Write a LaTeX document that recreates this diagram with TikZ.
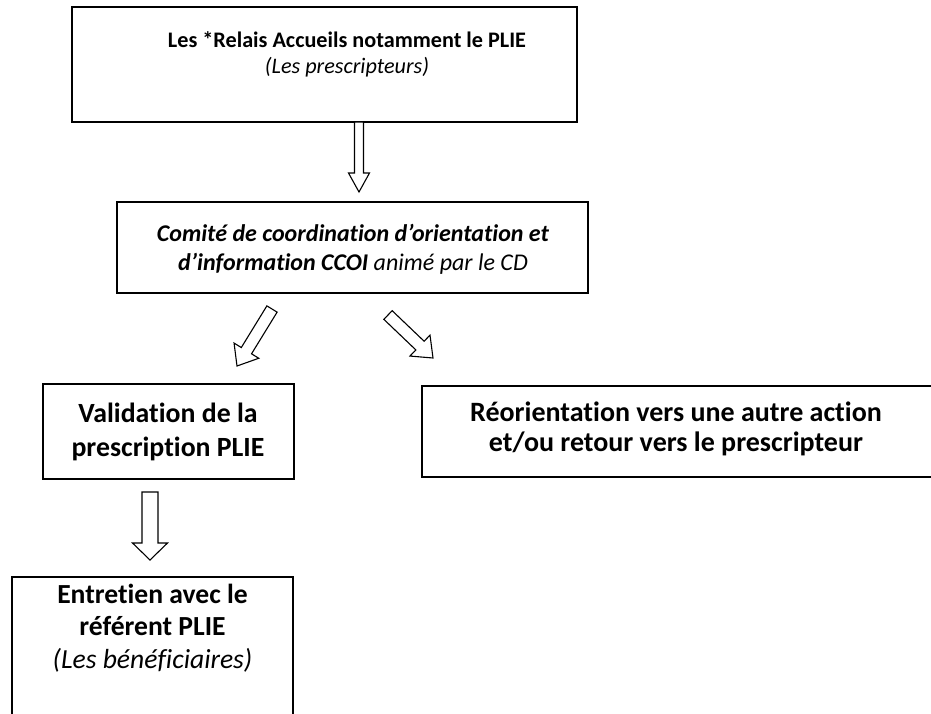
\documentclass[tikz,border=0pt]{standalone}
\usepackage{fontspec}
\setmainfont{Carlito}[Ligatures={NoCommon,NoRequired,NoContextual}]
\usetikzlibrary{calc}
\tikzset{
  box/.style={draw=black, line width=1.5pt, fill=none, inner sep=0pt},
  txt/.style={align=center, inner sep=0pt, text=black},
  blockarr/.style={draw=black, line width=1.1pt, fill=white, line join=miter}
}
\newcommand\blockarrow[5]{%
  \coordinate (hb) at ($(#2)!#5!(#1)$);
  \draw[blockarr] ($(#1)!#3!90:(#2)$) -- ($(hb)!#3!90:(#2)$) -- ($(hb)!#4!90:(#2)$)
    -- (#2) -- ($(hb)!#4!-90:(#2)$) -- ($(hb)!#3!-90:(#2)$) -- ($(#1)!#3!-90:(#2)$) -- cycle;
}
\begin{document}
\begin{tikzpicture}[x=1pt,y=-1pt]
\useasboundingbox (0,0) rectangle (931,713);
\fill[white] (0,0) rectangle (931,713);
\begin{scope}
\clip (0,0) rectangle (931,713);
% boxes
\node[box, minimum width=505pt, minimum height=115pt] (top) at (324.5,64.5) {};
\node[box, minimum width=471pt, minimum height=91pt] (mid) at (352.5,247.5) {};
\node[box, minimum width=251pt, minimum height=95pt] (val) at (168.5,431.5) {};
\node[box, minimum width=513pt, minimum height=91pt] (reo) at (678.5,431.5) {};
\node[box, minimum width=281pt, minimum height=143pt] (ent) at (152.5,648.5) {};
% texts
\node[txt, font=\fontsize{22.2}{26}\selectfont] (toptxt) at (347,54) {\textbf{Les *Relais Accueils notamment le PLIE}\\\textit{(Les prescripteurs)}};
\node[txt, font=\fontsize{24}{29}\selectfont] (midtxt) at (353,249) {\textbf{\textit{Comité de coordination d’orientation et}}\\\textbf{\textit{d’information CCOI}} \textit{animé par le CD}};
\node[txt, font=\fontsize{27.8}{34}\selectfont\bfseries] (valtxt) at (168,432) {Validation de la\\prescription PLIE};
\node[txt, font=\fontsize{28}{30}\selectfont\bfseries] (reotxt) at (676,429) {Réorientation vers une autre action\\et/ou retour vers le prescripteur};
\node[txt, font=\fontsize{27.6}{32.5}\selectfont] (enttxt) at (152.5,628) {\textbf{Entretien avec le}\\\textbf{référent PLIE}\\\textit{(Les bénéficiaires)}};
% arrows
\coordinate (a1s) at (359,122);
\coordinate (a1e) at (359,192);
\blockarrow{a1s}{a1e}{4.5pt}{10.5pt}{19pt}
\coordinate (a2s) at (272,309);
\coordinate (a2e) at (237,366);
\blockarrow{a2s}{a2e}{6pt}{14.5pt}{18pt}
\coordinate (a3s) at (388,315);
\coordinate (a3e) at (433,358);
\blockarrow{a3s}{a3e}{6pt}{14.5pt}{18pt}
\coordinate (a4s) at (150,492);
\coordinate (a4e) at (150,560);
\blockarrow{a4s}{a4e}{8pt}{17.5pt}{17pt}
\end{scope}
\end{tikzpicture}
\end{document}
